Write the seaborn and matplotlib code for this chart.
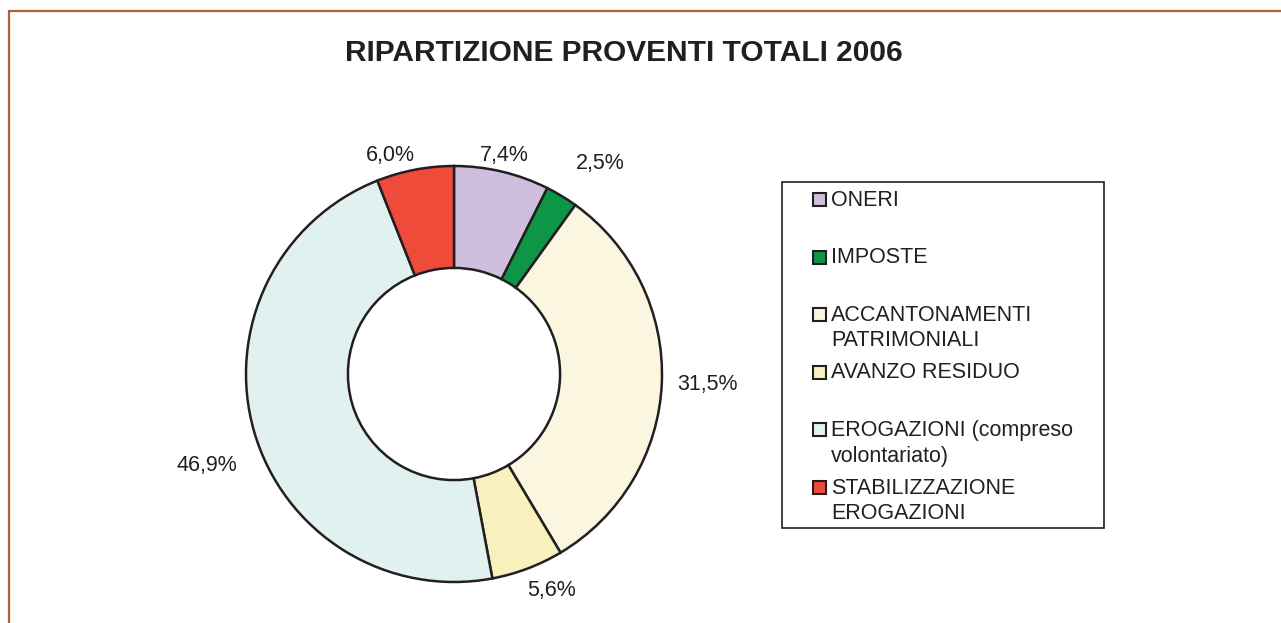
import numpy as np
import matplotlib
matplotlib.use("Agg")
import matplotlib.pyplot as plt
import seaborn as sns
from matplotlib.patches import Rectangle
from matplotlib.lines import Line2D

# Data
categories = [
    "ONERI",
    "IMPOSTE",
    "ACCANTONAMENTI\nPATRIMONIALI",
    "AVANZO RESIDUO",
    "EROGAZIONI (compreso\nvolontariato)",
    "STABILIZZAZIONE\nEROGAZIONI",
]
shares = [7.4, 2.5, 31.5, 5.6, 46.9, 6.0]
value_labels = ["7,4%", "2,5%", "31,5%", "5,6%", "46,9%", "6,0%"]
colors = ["#CDBFDD", "#0E9647", "#FBF6DF", "#F8F0BD", "#E1F1F0", "#EE4B3B"]
title = "RIPARTIZIONE PROVENTI TOTALI 2006"

sns.set_theme(style="white")
plt.rcParams["font.family"] = ["Liberation Sans", "DejaVu Sans"]

INK = "#231F20"
W, H = 1281, 623
fig = plt.figure(figsize=(W / 100, H / 100), dpi=100)
fig.patch.set_facecolor("white")


def fx(px):
    return px / W


def fy(py):
    return 1 - py / H


# Frame of the panel (top and left edges)
frame_col = "#B0603A"
fig.add_artist(Line2D([fx(9), 1.0], [fy(11), fy(11)], color=frame_col, lw=1.6,
                      transform=fig.transFigure))
fig.add_artist(Line2D([fx(9), fx(9)], [fy(11), 0.0], color=frame_col, lw=1.6,
                      transform=fig.transFigure))

# Title
fig.text(fx(624), fy(53), title, ha="center", va="center", fontsize=21.5,
         fontweight="bold", color=INK)

# Donut
cx, cy, R = 454, 374, 208
ax = fig.add_axes([fx(cx - R), fy(cy + R), 2 * R / W, 2 * R / H])
pal = sns.color_palette(colors)
wedges, _ = ax.pie(shares, colors=pal, startangle=90, counterclock=False,
                   radius=1.0,
                   wedgeprops=dict(width=0.49, edgecolor=INK, linewidth=1.8))
for w in wedges:
    w.set_clip_on(False)
ax.set_xlim(-1, 1)
ax.set_ylim(-1, 1)
ax.set_aspect("equal")
ax.axis("off")

# Percentage labels placed just outside each slice
total = float(np.sum(shares))
cum = np.cumsum([0] + shares[:-1])
mids = 90 - 360 * (cum + np.array(shares) / 2) / total
nudges = [(-2, 2), (25, -11), (7, 0), (16, 2), (-10, 23), (-21, 4)]  # px, y down
renderer = fig.canvas.get_renderer()
for lab, ang, (ndx, ndy) in zip(value_labels, mids, nudges):
    t = fig.text(0, 0, lab, fontsize=15.5, color=INK, ha="center", va="center")
    bb = t.get_window_extent(renderer)
    a = np.deg2rad(ang)
    ext = abs(np.cos(a)) * bb.width / 2 + abs(np.sin(a)) * bb.height / 2 * 0.5
    r = 1.04 * R + ext
    px = cx + r * np.cos(a) + ndx
    py = cy - r * np.sin(a) + ndy
    t.set_position((fx(px), fy(py)))

# Legend
lx0, ly0, lx1, ly1 = 782, 182, 1104, 528
fig.add_artist(Rectangle((fx(lx0), fy(ly1)), (lx1 - lx0) / W, (ly1 - ly0) / H,
                         transform=fig.transFigure, fill=False, ec=INK, lw=1.2))
step = 57.6
sq = 13
for i, (name, col) in enumerate(zip(categories, pal)):
    yc = 199.5 + step * i
    fig.add_artist(Rectangle((fx(813), fy(yc + sq / 2)), sq / W, sq / H,
                             transform=fig.transFigure, fc=col, ec=INK, lw=1.5))
    fig.text(fx(831), fy(yc - 10), name, fontsize=15.5, color=INK, ha="left",
             va="top", linespacing=1.3)

fig.savefig("out.png", dpi=100, facecolor="white")
